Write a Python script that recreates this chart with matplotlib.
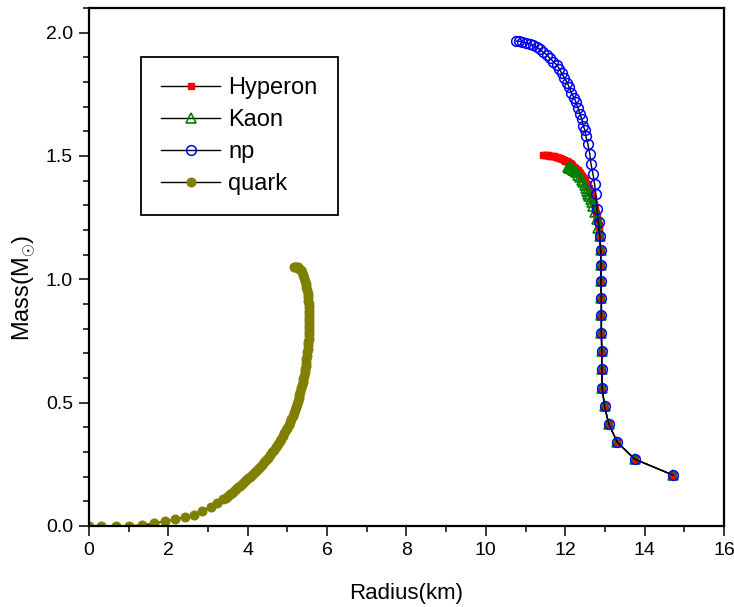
import matplotlib
matplotlib.use("Agg")
import matplotlib.pyplot as plt
from matplotlib.ticker import MultipleLocator, FormatStrFormatter

plt.rcParams['font.family'] = ['Liberation Sans', 'DejaVu Sans']
plt.rcParams['mathtext.fontset'] = 'custom'
plt.rcParams['mathtext.rm'] = 'Liberation Sans'

# rama comun de baja masa (np, hyperon y kaon coinciden)
crust_R = [12.87, 12.89, 12.90, 12.90, 12.91, 12.91, 12.91, 12.92, 12.92, 12.93,
           12.99, 13.10, 13.31, 13.75, 14.72]
crust_M = [1.174, 1.118, 1.057, 0.992, 0.924, 0.855, 0.783, 0.710, 0.635, 0.561,
           0.485, 0.412, 0.340, 0.271, 0.206]

# np
np_R = [10.76, 10.84, 10.92, 11.01, 11.11, 11.19, 11.28, 11.36, 11.44, 11.53,
        11.61, 11.70, 11.78, 11.85, 11.91, 11.98, 12.05, 12.10, 12.15, 12.22,
        12.27, 12.32, 12.37, 12.42, 12.45, 12.50, 12.52, 12.57, 12.62, 12.65,
        12.70, 12.74, 12.77, 12.80, 12.84] + crust_R
np_M = [1.966, 1.965, 1.962, 1.959, 1.954, 1.949, 1.940, 1.932, 1.921, 1.911,
        1.897, 1.883, 1.870, 1.854, 1.835, 1.816, 1.797, 1.778, 1.756, 1.737,
        1.718, 1.694, 1.672, 1.648, 1.623, 1.604, 1.580, 1.548, 1.507, 1.466,
        1.426, 1.385, 1.347, 1.285, 1.233] + crust_M

# Hyperon
hyp_R = [11.44, 11.48, 11.52, 11.56, 11.60, 11.64, 11.68, 11.72, 11.76, 11.80,
         11.84, 11.88, 11.92, 11.96, 12.00, 12.04, 12.07, 12.11, 12.14, 12.18,
         12.21, 12.25, 12.28, 12.31, 12.34, 12.37, 12.40, 12.43, 12.46, 12.49,
         12.51, 12.54, 12.56, 12.59, 12.61, 12.63, 12.65, 12.67, 12.69, 12.71,
         12.73, 12.75, 12.76, 12.78, 12.79, 12.81, 12.82, 12.84, 12.85, 12.86] + crust_R
hyp_M = [1.505, 1.505, 1.504, 1.503, 1.502, 1.501, 1.499, 1.498, 1.496, 1.494,
         1.492, 1.490, 1.487, 1.484, 1.481, 1.478, 1.474, 1.470, 1.466, 1.462,
         1.457, 1.452, 1.447, 1.442, 1.436, 1.430, 1.424, 1.417, 1.410, 1.403,
         1.396, 1.388, 1.380, 1.372, 1.363, 1.354, 1.345, 1.335, 1.325, 1.315,
         1.304, 1.293, 1.282, 1.270, 1.258, 1.246, 1.233, 1.219, 1.205, 1.190] + crust_M

# Kaon
kaon_R = [12.07, 12.10, 12.12, 12.15, 12.17, 12.20, 12.22, 12.25, 12.28, 12.33,
          12.37, 12.41, 12.45, 12.49, 12.52, 12.55, 12.58, 12.61, 12.64, 12.67,
          12.70, 12.75, 12.79, 12.83] + crust_R
kaon_M = [1.454, 1.453, 1.452, 1.450, 1.447, 1.445, 1.442, 1.438, 1.434, 1.424,
          1.413, 1.403, 1.393, 1.381, 1.369, 1.358, 1.346, 1.336, 1.325, 1.312,
          1.298, 1.271, 1.244, 1.210] + crust_M

# quark
quark_R = [0.00, 0.31, 0.68, 1.02, 1.34, 1.64, 1.91, 2.17, 2.42, 2.64,
           2.85, 3.07, 3.23, 3.38,
           3.45, 3.50, 3.55, 3.60, 3.65, 3.70, 3.75, 3.80, 3.85, 3.90,
           3.95, 4.00, 4.05, 4.10, 4.15, 4.20, 4.25, 4.30, 4.35, 4.40,
           4.45, 4.50, 4.55, 4.60, 4.65, 4.70, 4.75, 4.80, 4.84, 4.88,
           4.92, 4.96, 5.00, 5.03, 5.07, 5.10, 5.13, 5.16, 5.19, 5.21,
           5.24, 5.26, 5.28, 5.30, 5.32, 5.34, 5.36, 5.38, 5.40, 5.41,
           5.43, 5.44, 5.46, 5.47, 5.48, 5.49, 5.50, 5.51, 5.52, 5.53,
           5.535, 5.54, 5.545, 5.55, 5.55, 5.55, 5.55, 5.55, 5.545, 5.54,
           5.535, 5.53, 5.52, 5.51, 5.50, 5.48, 5.46, 5.44, 5.42, 5.39,
           5.36, 5.33, 5.30, 5.26, 5.22, 5.19, 5.16]
quark_M = [0.000, 0.000, 0.000, 0.001, 0.004, 0.011, 0.019, 0.027, 0.035, 0.046,
           0.062, 0.079, 0.095, 0.108,
           0.115, 0.122, 0.128, 0.135, 0.142, 0.150, 0.157, 0.164, 0.171, 0.178,
           0.186, 0.193, 0.200, 0.208, 0.216, 0.224, 0.232, 0.240, 0.249, 0.258,
           0.267, 0.277, 0.287, 0.298, 0.309, 0.320, 0.332, 0.344, 0.354, 0.365,
           0.376, 0.388, 0.399, 0.410, 0.422, 0.434, 0.446, 0.458, 0.470, 0.482,
           0.495, 0.507, 0.520, 0.532, 0.545, 0.558, 0.571, 0.584, 0.597, 0.610,
           0.623, 0.636, 0.649, 0.662, 0.676, 0.690, 0.704, 0.718, 0.732, 0.746,
           0.760, 0.774, 0.788, 0.802, 0.816, 0.830, 0.844, 0.858, 0.872, 0.886,
           0.900, 0.914, 0.928, 0.942, 0.956, 0.970, 0.983, 0.995, 1.007, 1.018,
           1.028, 1.036, 1.043, 1.048, 1.051, 1.052, 1.051]

fig = plt.figure(figsize=(7.34, 6.07), dpi=100)
ax = fig.add_axes([89 / 734, 1 - 526 / 607, 635 / 734, 518 / 607])

ax.plot(hyp_R, hyp_M, color='black', lw=1, marker='s', ms=5,
        mfc='red', mec='red', label='Hyperon')
ax.plot(kaon_R, kaon_M, color='black', lw=1, marker='^', ms=7,
        mfc='none', mec='green', mew=1.2, label='Kaon')
ax.plot(np_R, np_M, color='black', lw=1, marker='o', ms=7,
        mfc='none', mec='blue', mew=1.1, label='np')
ax.plot(quark_R, quark_M, color='black', lw=1, marker='o', ms=6.2,
        mfc='#808000', mec='#808000', label='quark')

ax.set_xlim(0, 16)
ax.set_ylim(0, 2.1)
ax.xaxis.set_major_locator(MultipleLocator(2))
ax.xaxis.set_minor_locator(MultipleLocator(1))
ax.yaxis.set_major_locator(MultipleLocator(0.5))
ax.yaxis.set_minor_locator(MultipleLocator(0.1))
ax.yaxis.set_major_formatter(FormatStrFormatter('%.1f'))
ax.tick_params(which='major', direction='out', length=7, width=1.1,
               labelsize=14, pad=4.5)
ax.tick_params(which='minor', direction='out', length=4, width=1.1)
for s in ax.spines.values():
    s.set_linewidth(1.6)

ax.set_xlabel('Radius(km)', fontsize=16, labelpad=17)
ax.set_ylabel(r'Mass(M$_{\odot}$)', fontsize=17)
ax.yaxis.set_label_coords(-0.08, 0.46)

leg = ax.legend(loc='upper left', bbox_to_anchor=((141 - 89) / 635, (526 - 57) / 518),
                borderaxespad=0, fontsize=17, numpoints=1, handlelength=2.5,
                handletextpad=0.35, labelspacing=0.42, borderpad=0.85,
                fancybox=False, framealpha=1)
leg.get_frame().set_edgecolor('black')
leg.get_frame().set_linewidth(1.3)

fig.savefig('out.png', dpi=100)
